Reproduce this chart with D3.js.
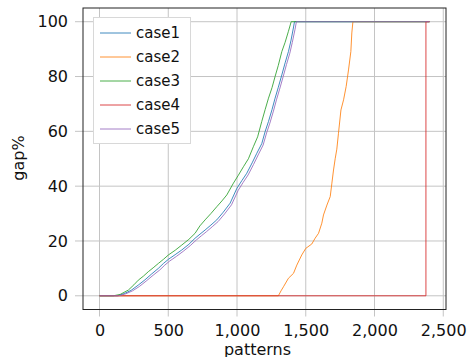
<!DOCTYPE html>
<html><head><meta charset="utf-8">
<script src="https://cdn.jsdelivr.net/npm/d3@7"></script>
<style>body{margin:0;background:#fff}</style>
</head><body>
<svg id="c" width="468" height="357"></svg>
<script>
const seriesNames = ["case1","case2","case3","case4","case5"];
const seriesColors = ["#1f77b4","#ff7f0e","#2ca02c","#d62728","#9467bd"];
const xTicks = [0,500,1000,1500,2000,2500];
const yTicks = [0,20,40,60,80,100];

const case1 = [[0,0],[130,0],[180,0.8],[230,2],[282,3.9],[330,5.8],[380,8],[428,10],[465,11.8],[501,13.3],[550,15],[598,16.7],[650,18.8],[695,21],[731,22.5],[768,24],[810,25.8],[853,27.7],[900,30.5],[950,33.8],[999,39.2],[1035,42],[1071,44.7],[1110,48.5],[1144,52],[1180,55.5],[1205,60],[1229,63.6],[1255,68],[1277,72.1],[1300,76],[1326,80.6],[1350,85],[1374,89.1],[1392,93],[1410,97.7],[1418,100],[2400,100]];
const case2 = [[0,0],[1301,0],[1320,1.8],[1338,3.3],[1374,6.4],[1411,8.2],[1435,11.2],[1471,14.9],[1500,17.3],[1544,18.9],[1568,21],[1593,22.8],[1617,26.5],[1629,29.5],[1654,33.1],[1678,36.2],[1690,41.1],[1702,45.9],[1714,50],[1726,53.5],[1738,59.3],[1756,67.8],[1775,71.5],[1794,76.4],[1811,82.4],[1828,89.1],[1835,95.9],[1843,100],[2400,100]];
const case3 = [[0,0],[100,0],[150,0.5],[210,2.1],[250,4],[282,5.7],[320,7.2],[355,8.8],[390,10.2],[428,11.8],[465,13.3],[501,14.9],[550,16.6],[598,18.5],[650,20.6],[695,22.8],[730,25.5],[768,27.7],[810,30],[853,32.5],[890,34.6],[926,36.8],[974,41.1],[1010,44],[1047,47.1],[1083,50],[1119,54.4],[1150,58],[1180,63.6],[1205,68],[1229,72.1],[1255,76],[1277,80],[1300,84],[1326,89.1],[1350,92.5],[1374,96.5],[1394,100],[2400,100]];
const case4 = [[0,0],[2374,0],[2374,100],[2400,100]];
const case5 = [[0,0],[140,0],[190,0.7],[240,1.8],[290,3.4],[340,5.4],[390,7.5],[438,9.4],[475,11.2],[511,12.7],[560,14.4],[608,16.2],[660,18.3],[705,20.4],[741,21.9],[778,23.4],[820,25.2],[863,27.1],[910,29.9],[960,33.2],[1009,38.5],[1045,41.4],[1081,44.1],[1120,47.9],[1154,51.4],[1190,55],[1215,59.4],[1239,63],[1265,67.4],[1287,71.5],[1310,75.4],[1336,80],[1360,84.4],[1384,88.5],[1402,92.4],[1422,97.2],[1432,100],[2400,100]];
const allSeries = [case1,case2,case3,case4,case5];

const L=83, R=446, T=8, B=309.5;
const svg = d3.select("#c");
const x = d3.scaleLinear().domain([-120,2520]).range([L,R]);
const y = d3.scaleLinear().domain([-5,105]).range([B,T]);
const font = "DejaVu Sans, sans-serif";

// grid
const g = svg.append("g");
g.selectAll(".gx").data(xTicks).join("line")
  .attr("x1",d=>x(d)).attr("x2",d=>x(d)).attr("y1",T).attr("y2",B+7)
  .attr("stroke","#c4c4c4").attr("stroke-width",1);
g.selectAll(".gy").data(yTicks).join("line")
  .attr("y1",d=>y(d)).attr("y2",d=>y(d)).attr("x1",L-8).attr("x2",R)
  .attr("stroke","#c4c4c4").attr("stroke-width",1);

// lines
const line = d3.line().x(d=>x(d[0])).y(d=>y(d[1]));
allSeries.forEach((s,i)=>{
  svg.append("path").datum(s).attr("d",line)
    .attr("fill","none").attr("stroke",seriesColors[i])
    .attr("stroke-width",1).attr("stroke-opacity",0.85);
});

// frame
svg.append("rect").attr("x",L).attr("y",T).attr("width",R-L).attr("height",B-T)
  .attr("fill","none").attr("stroke","#222").attr("stroke-width",1);

// axes labels via d3 axes
const xAxis = d3.axisBottom(x).tickValues(xTicks).tickSize(0).tickPadding(15)
  .tickFormat(d3.format(","));
const ax = svg.append("g").attr("transform",`translate(0,${B})`).call(xAxis);
ax.select(".domain").remove();
ax.selectAll("text").attr("font-family",font).attr("font-size",16).attr("fill","#111");

const yAxis = d3.axisLeft(y).tickValues(yTicks).tickSize(0).tickPadding(15);
const ay = svg.append("g").attr("transform",`translate(${L},0)`).call(yAxis);
ay.select(".domain").remove();
ay.selectAll("text").attr("font-family",font).attr("font-size",16).attr("fill","#111");

svg.append("text").attr("x",(L+R)/2 - 7).attr("y",355).attr("text-anchor","middle")
  .attr("font-family",font).attr("font-size",16).attr("fill","#111").text("patterns");
svg.append("text").attr("transform","translate(24,158) rotate(-90)").attr("text-anchor","middle")
  .attr("font-family",font).attr("font-size",16).attr("fill","#111").text("gap%");

// legend
const lg = svg.append("g");
lg.append("rect").attr("x",93.5).attr("y",17.5).attr("width",97).attr("height",126)
  .attr("fill","#fff").attr("stroke","#d8d8d8").attr("stroke-width",1);
seriesNames.forEach((n,i)=>{
  const yy = 33 + i*24;
  lg.append("line").attr("x1",100).attr("x2",131).attr("y1",yy).attr("y2",yy)
    .attr("stroke",seriesColors[i]).attr("stroke-width",1).attr("stroke-opacity",0.85);
  lg.append("text").attr("x",136).attr("y",yy).attr("dy","0.35em")
    .attr("font-family",font).attr("font-size",15).attr("fill","#111").text(n);
});
</script>
</body></html>
